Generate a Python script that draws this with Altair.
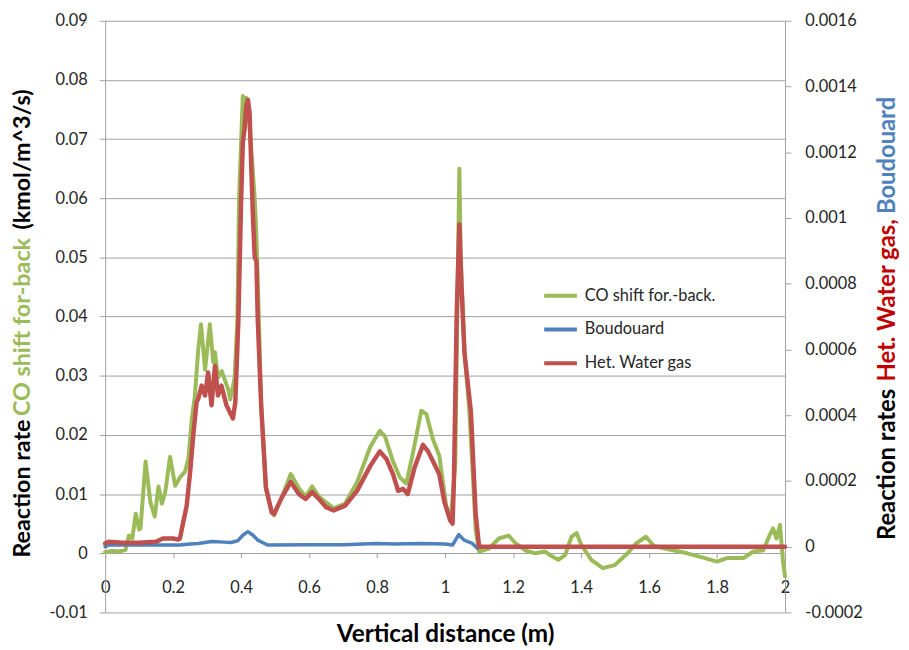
import altair as alt
import pandas as pd

# ---------------- data ----------------
co_x = [0.0, 0.02, 0.04, 0.06, 0.07, 0.08, 0.09, 0.1, 0.104, 0.119, 0.133, 0.146, 0.157,
        0.167, 0.177, 0.191, 0.206, 0.221, 0.235, 0.245, 0.255, 0.264, 0.274, 0.282, 0.294,
        0.308, 0.318, 0.323, 0.332, 0.343, 0.362, 0.368, 0.381, 0.389, 0.394, 0.405, 0.41,
        0.415, 0.422, 0.429, 0.44, 0.444, 0.447, 0.452, 0.459, 0.473, 0.49, 0.497, 0.52,
        0.546, 0.57, 0.59, 0.609, 0.629, 0.65, 0.672, 0.706, 0.741, 0.78, 0.808, 0.823,
        0.847, 0.867, 0.886, 0.906, 0.93, 0.945, 0.964, 0.983, 1.003, 1.017, 1.03, 1.037,
        1.042, 1.046, 1.057, 1.071, 1.08, 1.09, 1.1, 1.129, 1.158, 1.187, 1.207, 1.236,
        1.265, 1.294, 1.314, 1.333, 1.353, 1.372, 1.387, 1.401, 1.43, 1.464, 1.499, 1.537,
        1.562, 1.591, 1.615, 1.664, 1.712, 1.751, 1.8, 1.829, 1.878, 1.907, 1.936, 1.955,
        1.965, 1.975, 1.985, 1.994, 2.0]
co_y = [0.0002, 0.0004, 0.0003, 0.0006, 0.003, 0.0025, 0.0067, 0.004, 0.0042, 0.0155, 0.0087,
        0.0062, 0.0113, 0.0084, 0.0104, 0.0163, 0.0114, 0.0129, 0.0138, 0.016, 0.0227, 0.0266,
        0.0345, 0.0387, 0.031, 0.0387, 0.0323, 0.034, 0.0297, 0.0308, 0.0277, 0.026, 0.0297,
        0.0395, 0.06, 0.0773, 0.072, 0.077, 0.074, 0.069, 0.06, 0.055, 0.05, 0.04, 0.025,
        0.011, 0.0068, 0.0064, 0.0095, 0.0134, 0.011, 0.0096, 0.0113, 0.0096, 0.0086, 0.0076,
        0.0084, 0.012, 0.018, 0.0207, 0.0198, 0.0155, 0.0128, 0.0118, 0.0171, 0.0241, 0.0235,
        0.0193, 0.0165, 0.0081, 0.0059, 0.015, 0.045, 0.065, 0.05, 0.034, 0.0244, 0.015, 0.004,
        0.0003, 0.0008, 0.0025, 0.003, 0.0017, 0.0005, 0.0, 0.0003, -0.0005, -0.0011, -0.0003,
        0.0028, 0.0034, 0.0014, -0.0011, -0.0025, -0.002, 0.0, 0.0017, 0.0028, 0.0012, 0.0006,
        0.0, -0.0006, -0.0014, -0.0008, -0.0008, 0.0003, 0.0005, 0.0031, 0.0042, 0.0025,
        0.0048, -0.0014, -0.0039]

het_x = [0.0, 0.01, 0.05, 0.1, 0.15, 0.17, 0.2, 0.215, 0.22, 0.23, 0.24, 0.25, 0.259, 0.269,
         0.274, 0.284, 0.294, 0.303, 0.313, 0.323, 0.332, 0.342, 0.357, 0.376, 0.383, 0.392,
         0.4, 0.405, 0.41, 0.415, 0.42, 0.425, 0.43, 0.435, 0.44, 0.445, 0.449, 0.459, 0.473,
         0.49, 0.497, 0.52, 0.546, 0.57, 0.59, 0.609, 0.629, 0.65, 0.672, 0.706, 0.741, 0.78,
         0.808, 0.828, 0.847, 0.862, 0.876, 0.89, 0.91, 0.935, 0.95, 0.969, 0.983, 0.998,
         1.015, 1.022, 1.026, 1.034, 1.042, 1.048, 1.057, 1.076, 1.09, 1.1, 1.5, 2.0]
het_y = [0.00001, 0.000015, 0.000012, 0.000012, 0.000015, 0.000025, 0.000025, 0.000022,
         0.000025, 0.000076, 0.000125, 0.000227, 0.000336, 0.00044, 0.00045, 0.00049, 0.00046,
         0.00053, 0.00043, 0.00055, 0.00046, 0.00049, 0.00043, 0.00039, 0.00044, 0.00069,
         0.00105, 0.00123, 0.00127, 0.00134, 0.00136, 0.00132, 0.00115, 0.001, 0.00088,
         0.00087, 0.00069, 0.00043, 0.00018, 0.000105, 0.0001, 0.00015, 0.000197, 0.00016,
         0.000145, 0.000166, 0.000145, 0.00012, 0.00011, 0.000125, 0.00017, 0.000246, 0.00029,
         0.000266, 0.00022, 0.00017, 0.000176, 0.00016, 0.00024, 0.00031, 0.00029, 0.00025,
         0.00022, 0.000136, 0.00008, 0.00007, 0.0002, 0.0007, 0.00098, 0.0008, 0.00059,
         0.00041, 0.0001, 0.0, 0.0, 0.0]

bou_x = [0.0, 0.01, 0.1, 0.22, 0.25, 0.274, 0.313, 0.35, 0.37, 0.39, 0.405, 0.42, 0.435,
         0.449, 0.478, 0.6, 0.7, 0.8, 0.85, 0.93, 1.0, 1.022, 1.04, 1.056, 1.08, 1.095, 1.1]
bou_y = [0.0, 0.000005, 0.000005, 0.000005, 0.000008, 0.00001, 0.000016, 0.000014, 0.000013,
         0.000018, 0.000035, 0.000046, 0.000035, 0.00002, 0.000005, 0.000006, 0.000006,
         0.00001, 0.000008, 0.00001, 0.000008, 0.000005, 0.000037, 0.00002, 0.00001,
         -0.000005, 0.0]

series_names = ["CO shift for.-back.", "Boudouard", "Het. Water gas"]
series_colors = ["#9BBB59", "#4F81BD", "#C0504D"]

x_ticks = [0, 0.2, 0.4, 0.6, 0.8, 1, 1.2, 1.4, 1.6, 1.8, 2]
left_ticks = [-0.01, 0, 0.01, 0.02, 0.03, 0.04, 0.05, 0.06, 0.07, 0.08, 0.09]
right_ticks = [-0.0002, 0, 0.0002, 0.0004, 0.0006, 0.0008, 0.001, 0.0012, 0.0014, 0.0016]

left_title = ["Reaction rate", "CO shift for-back", "(kmol/m^3/s)"]
left_title_colors = ["#000000", "#9BBB59", "#000000"]
right_title = ["Reaction rates ", "Het. Water gas, ", "Boudouard"]
right_title_colors = ["#000000", "#C00000", "#4F81BD"]

# ---------------- tables ----------------
df_co = pd.DataFrame({"x": co_x, "y": co_y, "s": series_names[0]})
df_bou = pd.DataFrame({"x": bou_x, "y": bou_y, "s": series_names[1]})
df_het = pd.DataFrame({"x": het_x, "y": het_y, "s": series_names[2]})

FONT = "Lato"
GRAY = "#A0A0A0"
LBL = "#262626"
TICK_FS = 16.5

color_scale = alt.Scale(domain=series_names, range=series_colors)
color_enc = alt.Color(
    "s:N", scale=color_scale, sort=series_names,
    legend=alt.Legend(
        title=None, orient="none", legendX=441, legendY=259,
        symbolType="stroke", symbolSize=1089, symbolStrokeWidth=4,
        labelFont=FONT, labelFontSize=16.5, labelColor=LBL, labelOffset=6,
        rowPadding=7, padding=0, labelLimit=300,
    ),
)

x_enc = alt.X(
    "x:Q",
    scale=alt.Scale(domain=[0, 2], nice=False, zero=False),
    axis=alt.Axis(
        values=x_ticks, labelExpr="toString(datum.value)", grid=False, offset=-60,
        domainColor=GRAY, tickColor=GRAY, tickSize=5, labelPadding=22, labelFlush=False,
        labelFont=FONT, labelFontSize=TICK_FS, labelColor=LBL,
        title="Vertical distance (m)", titleFont=FONT, titleFontSize=24.5,
        titleFontWeight="bold", titleColor="#000000", titlePadding=27,
    ),
)

left_y = alt.Y(
    "y:Q",
    scale=alt.Scale(domain=[-0.01, 0.09], nice=False, zero=False),
    axis=alt.Axis(
        values=left_ticks, labelExpr="toString(datum.value)", grid=True, labelFlush=False,
        gridColor=GRAY, gridWidth=1, domainColor=GRAY, tickColor=GRAY, tickSize=6,
        labelPadding=12, labelFont=FONT, labelFontSize=TICK_FS, labelColor=LBL, title=None,
        orient="left",
    ),
)

right_axis = alt.Axis(
    values=right_ticks, labelExpr="toString(datum.value)", grid=False, labelFlush=False,
    domainColor=GRAY, tickColor=GRAY, tickSize=6, labelPadding=14,
    labelFont=FONT, labelFontSize=TICK_FS, labelColor=LBL, title=None, orient="right",
)
right_scale = alt.Scale(domain=[-0.0002, 0.0016], nice=False, zero=False)

co_line = alt.Chart(df_co).mark_line(strokeWidth=4, strokeJoin="round", strokeCap="round").encode(
    x=x_enc, y=left_y, color=color_enc, order=alt.Order("x:Q"))

bou_line = alt.Chart(df_bou).mark_line(strokeWidth=3.5, strokeJoin="round", strokeCap="round").encode(
    x=x_enc, y=alt.Y("y:Q", scale=right_scale, axis=right_axis), color=color_enc,
    order=alt.Order("x:Q"))
het_line = alt.Chart(df_het).mark_line(strokeWidth=4.5, strokeJoin="round", strokeCap="round").encode(
    x=x_enc, y=alt.Y("y:Q", scale=right_scale, axis=right_axis), color=color_enc,
    order=alt.Order("x:Q"))

right_layer = alt.layer(bou_line, het_line)


def title_piece(text, color, x, y, align, size):
    return alt.Chart(pd.DataFrame({"t": [text]})).mark_text(
        angle=270, align=align, baseline="middle", font=FONT, fontSize=size,
        fontWeight="bold", color=color,
    ).encode(text="t:N", x=alt.value(x), y=alt.value(y))


left_centers = [472, 309, 140]
right_starts = [524, 364, 195]
texts = []
for t, c, ys in zip(left_title, left_title_colors, left_centers):
    texts.append(title_piece(t, c, -83, ys, "center", 23.5))
for t, c, ys in zip(right_title, right_title_colors, right_starts):
    texts.append(title_piece(t, c, 790, ys, "left", 24))

chart = alt.layer(co_line, right_layer, *texts).resolve_scale(y="independent").properties(
    width=686, height=597,
    autosize=alt.AutoSizeParams(type="none"),
    padding={"left": 98, "top": 10, "right": 117, "bottom": 35},
    background="white",
).configure_view(stroke=None)

chart.save("out.html", embed_options={"renderer": "svg", "actions": False})
